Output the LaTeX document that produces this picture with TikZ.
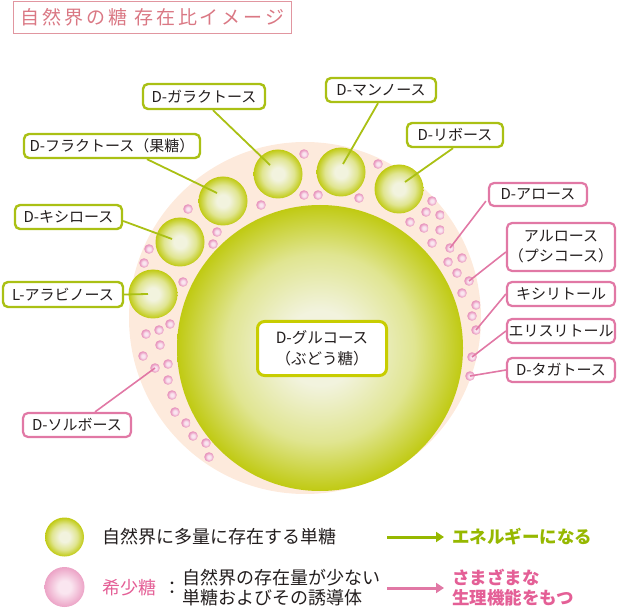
\documentclass[tikz,border=0pt]{standalone}
\usepackage{fontspec}
\setmainfont{Noto Sans CJK JP}
\newfontfamily\titlefont[LetterSpace=15]{Noto Sans CJK JP}
\usetikzlibrary{arrows.meta,calc}
\definecolor{gedge}{RGB}{192,202,18}
\definecolor{gmid}{RGB}{224,229,145}
\definecolor{gcen}{RGB}{242,243,222}
\definecolor{pedge}{RGB}{232,150,190}
\definecolor{pcen}{RGB}{250,230,240}
\definecolor{lpedge}{RGB}{236,163,198}
\definecolor{peach}{RGB}{253,234,220}
\definecolor{glinec}{RGB}{170,192,20}
\definecolor{plinec}{RGB}{225,120,165}
\definecolor{titlec}{RGB}{218,120,132}
\definecolor{titleb}{RGB}{225,150,160}
\definecolor{gtext}{RGB}{150,184,0}
\definecolor{ptext}{RGB}{228,95,150}
\definecolor{gluboxc}{RGB}{200,205,0}
\definecolor{inkc}{RGB}{35,30,30}
\pgfdeclareradialshading{gballsh}{\pgfpoint{0bp}{0bp}}{color(0bp)=(gcen); color(6.5bp)=(gcen); color(16.5bp)=(gmid); color(25bp)=(gedge); color(50bp)=(gedge)}
\pgfdeclareradialshading{pballsh}{\pgfpoint{0bp}{0bp}}{color(0bp)=(pcen); color(9bp)=(pcen); color(22bp)=(pedge); color(50bp)=(pedge)}
\pgfdeclareradialshading{lpballsh}{\pgfpoint{0bp}{0bp}}{color(0bp)=(pcen); color(8bp)=(pcen); color(25bp)=(lpedge); color(50bp)=(lpedge)}
\tikzset{
  gball/.style={circle, inner sep=0pt, shade, shading=gballsh, minimum size=#1},
  pdot/.style={circle, inner sep=0pt, shade, shading=pballsh, minimum size=9.6pt},
  glabel/.style={draw=glinec, line width=2.4pt, fill=white, rounded corners=5pt, inner sep=0pt, text=inkc, font=\fontsize{15}{20}\selectfont, minimum height=24pt},
  plabel/.style={draw=plinec, line width=2.2pt, fill=white, rounded corners=5pt, inner sep=0pt, text=inkc, font=\fontsize{15}{20}\selectfont, minimum height=24pt, align=center},
  gconn/.style={draw=glinec, line width=1.8pt},
  pconn/.style={draw=plinec, line width=1.6pt},
  legtext/.style={anchor=west, inner sep=0pt, text=inkc, font=\fontsize{18}{20}\selectfont, align=left},
  garrow/.style={draw=gtext, line width=3pt, -{Triangle[length=8pt,width=10pt]}, shorten >=8pt},
  parrow/.style={draw=plinec, line width=3pt, -{Triangle[length=8pt,width=10pt]}, shorten >=8pt}
}
\begin{document}
\begin{tikzpicture}[x=1pt,y=-1pt]
\useasboundingbox (0,0) rectangle (618,609);
% title
\node[draw=titleb, line width=1.2pt, minimum width=278pt, minimum height=32pt, inner sep=0pt, text=titlec] (title) at (152.5,17.5) {\titlefont\fontsize{19}{22}\selectfont 自然界の糖 存在比イメージ};
% background disc
\fill[peach] (305,318) circle (176pt);
% main ball
\node[gball=286pt] (glu) at (320,348) {};
% small green balls
\node[gball=49pt] (ara) at (153,294) {};
\node[gball=49pt] (xyl) at (180,242) {};
\node[gball=49pt] (fru) at (223,201) {};
\node[gball=49pt] (gal) at (278,174) {};
\node[gball=49pt] (man) at (341,172) {};
\node[gball=49pt] (rib) at (399,189) {};
% pink dots
\foreach \x/\y [count=\i] in {304/154, 378/164, 304/195, 318/195, 261/205, 359/198, 188/209, 217/232, 213/244, 149/249, 144/263, 183/282, 432/201, 426/212, 440/215, 410/222, 424/228, 440/230, 432/243, 462/258, 448/262, 457/273, 462/293, 476/305, 472/316, 170/324, 159/330, 146/334, 160/345, 143/356, 168/364, 168/380, 172/395, 175/412, 186/423, 193/436, 206/443, 209/457}
  \node[pdot] (d\i) at (\x,\y) {};
\node[pdot] (all) at (450,248) {};
\node[pdot] (psi) at (469,281) {};
\node[pdot] (xit) at (476,330) {};
\node[pdot] (eri) at (472,357) {};
\node[pdot] (tag) at (470,376) {};
\node[pdot] (sor) at (155,368) {};
% glucose label
\node[draw=gluboxc, line width=3pt, fill=white, rounded corners=7pt, minimum width=129pt, minimum height=54pt, inner sep=0pt, align=center, text=inkc, font=\fontsize{15.5}{21}\selectfont] (glubox) at (322,348.5) {D-グルコース\\（ぶどう糖）};
% green labels
\node[glabel, minimum width=122pt, minimum height=25pt] (galbox) at (204,96.5) {D-ガラクトース};
\node[glabel, minimum width=176pt] (frubox) at (112,146) {D-フラクトース（果糖）};
\node[glabel, minimum width=110pt] (manbox) at (381,90) {D-マンノース};
\node[glabel, minimum width=96pt] (ribbox) at (455,135) {D-リボース};
\node[glabel, minimum width=107pt] (xylbox) at (68.5,217) {D-キシロース};
\node[glabel, minimum width=120pt, minimum height=25pt] (arabox) at (63,294.5) {L-アラビノース};
% pink labels
\node[plabel, minimum width=108pt] (sorbox) at (77,425) {D-ソルボース};
\node[plabel, minimum width=98pt, minimum height=23pt] (allbox) at (538,194.5) {D-アロース};
\node[plabel, minimum width=108pt, minimum height=48pt, font=\fontsize{15}{20}\selectfont] (psibox) at (561,247) {アルロース\\（プシコース）};
\node[plabel, minimum width=108pt] (xitbox) at (561,294) {キシリトール};
\node[plabel, minimum width=108pt] (eribox) at (561,331) {エリスリトール};
\node[plabel, minimum width=108pt] (tagbox) at (561,370) {D-タガトース};
% connector ends inside balls
\coordinate (galend) at (270,165);
\coordinate (fruend) at (217,193);
\coordinate (manend) at (343,164);
\coordinate (ribend) at (405,182);
\coordinate (xylend) at (172,239);
\coordinate (araend) at (148,294);
% connectors
\draw[gconn] ([xshift=9pt]galbox.south) -- (galend);
\draw[gconn] ([xshift=35pt]frubox.south) -- (fruend);
\draw[gconn] ([xshift=-3pt]manbox.south) -- (manend);
\draw[gconn] ([xshift=-2pt]ribbox.south) -- (ribend);
\draw[gconn] ([yshift=-4pt]xylbox.east) -- (xylend);
\draw[gconn] (arabox.east) -- (araend);
\draw[pconn] ([xshift=18pt]sorbox.north) -- (sor.center);
\draw[pconn] ([xshift=-2pt,yshift=6pt]allbox.south west) -- (all.center);
\draw[pconn] ([yshift=-5pt]psibox.west) -- (psi.center);
\draw[pconn] (xitbox.west) -- (xit.center);
\draw[pconn] (eribox.west) -- (eri.center);
\draw[pconn] (tagbox.west) -- (tag.center);
% legend
\node[gball=39pt] (leggreen) at (64.5,537) {};
\node[circle, inner sep=0pt, shade, shading=lpballsh, minimum size=40pt] (legpink) at (64.5,587) {};
\node[legtext] (lt1) at (102,537) {自然界に多量に存在する単糖};
\node[legtext, text=ptext] (lt2) at (102,588) {希少糖};
\node[inner sep=0pt, text=inkc, font=\fontsize{18}{20}\selectfont] (colon) at (172,588) {：};
\node[legtext] (lt3) at (182,588) {自然界の存在量が少ない\\単糖およびその誘導体};
\coordinate (gastart) at (387,537);
\coordinate (pastart) at (387,588);
\node[legtext, text=gtext, font=\fontsize{17.5}{20}\bfseries] (en) at (452,537) {エネルギーになる};
\node[legtext, text=ptext, font=\fontsize{17.5}{20}\bfseries] (fn) at (452,588) {さまざまな\\生理機能をもつ};
\draw[garrow] (gastart) -- (en.west);
\draw[parrow] (pastart) -- (fn.west);
\end{tikzpicture}
\end{document}
